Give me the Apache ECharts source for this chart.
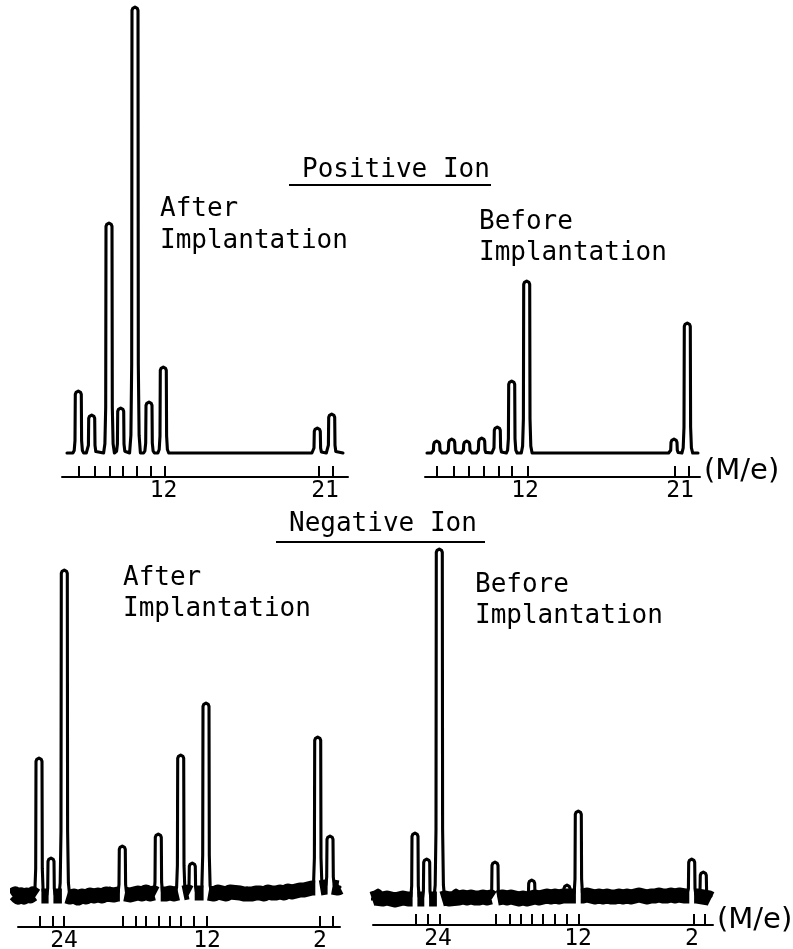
<!DOCTYPE html>
<html><head><meta charset="utf-8">
<script src="https://cdn.jsdelivr.net/npm/echarts@6/dist/echarts.min.js"></script>
<style>html,body{margin:0;padding:0;background:#fff}#c{width:793px;height:949px}</style>
</head><body><div id="c"></div>
<script>
// ---- Positive ion, after implantation (x: scan position, y: intensity, arbitrary units)
const posAfterPeakPos    = [16.3, 29.7, 47, 58.7, 73, 87, 101.3, 255.3, 269.7];
const posAfterPeakHeight = [62, 38, 230, 45, 446, 51, 86, 25, 39];
const posAfterTicks      = [16.3, 32.3, 48, 60.7, 74.7, 88.7, 103, 256.3, 270.7];
const posAfterLabelPos   = [101.5, 263];
const posAfterLabelText  = ['12', '21'];

// ---- Positive ion, before implantation
const posBeforePeakPos    = [11.7, 26.7, 41.7, 56.7, 72.3, 86.7, 101.7, 249, 262.3];
const posBeforePeakHeight = [12, 14, 12, 15, 26, 72, 172, 14, 130];
const posBeforeTicks      = [11.7, 28.3, 43.3, 58.3, 73.3, 86.7, 102.3, 249.3, 263.3];
const posBeforeLabelPos   = [100, 255];
const posBeforeLabelText  = ['12', '21'];

// ---- Negative ion, after implantation
const negAfterPeakPos    = [21, 33, 46.3, 92, 104.3, 140.3, 162.7, 174.3, 188, 217, 229, 299.7, 312];
const negAfterPeakHeight = [138, 38, 326, 7, 48, 60, 138, 30, 190, 6, 6, 151, 51];
const negAfterPeakBase   = [0, 0, 0, 1, 2, 2, 3, 3, 3, 3, 2, 8, 9];
const negAfterNoise = [[-6,0],[-3,2],[0,-1],[3,1],[6,-1],[9,1],[12,0],[15,2],[18,0],[27,0],[39,0],
  [52,-1],[56,0],[60,-2],[64,0],[68,-1],[72,1],[76,0],[80,1],[84,0],[88,2],[96,1],[100,2],
  [108,3],[112,1],[116,2],[120,3],[124,2],[128,4],[132,2],[136,3],[144,1],[148,2],[152,3],[156,2],
  [166,3],[170,4],[178,3],[182,3],[192,3],[196,2],[200,4],[204,3],[208,2],[212,4],[222,3],[226,2],
  [234,2],[238,3],[242,3],[246,2],[250,4],[254,3],[258,3],[262,4],[266,3],[270,5],[274,4],[278,5],
  [282,6],[286,6],[290,7],[294,8],[304,8],[308,9],[316,9],[320,8],[322,9]];
const negAfterTicks      = [22, 34.7, 45.3, 104.7, 117.7, 127.7, 140.3, 152, 162.7, 175.3, 188.7, 302, 314.3];
const negAfterLabelPos   = [46, 189, 302];
const negAfterLabelText  = ['24', '12', '2'];

// ---- Negative ion, before implantation
const negBeforePeakPos    = [5, 42, 53.7, 66.3, 83, 122, 158.7, 194, 205.3, 318.7, 330.3];
const negBeforePeakHeight = [9, 66, 40, 350, 8, 36, 18, 11, 85, 37, 24];
const negBeforePeakBase   = [0, 0, 0, 0, 1, 1, 1, 3, 3, 3, 3];
const negBeforeNoise = [[-1,0],[2,1],[10,0],[14,1],[18,0],[22,-1],[26,0],[30,1],[35,0],[47.5,0],[60,0],
  [72,1],[76,0],[86,1],[90,2],[94,1],[98,2],[102,1],[106,1],[110,2],[114,1],[118,2],[126,1],[130,2],
  [134,1],[138,2],[142,1],[146,0],[150,1],[154,0],[162,2],[166,1],[170,2],[174,3],[178,2],[182,3],
  [186,2],[190,3],[198,3],[201,3],[210,3],[214,4],[218,3],[222,2],[226,3],[230,2],[234,3],[238,2],
  [242,2],[246,3],[250,2],[254,3],[258,2],[262,3],[266,4],[270,3],[274,2],[278,3],[282,3],[286,4],
  [290,3],[294,3],[298,4],[302,3],[306,4],[312,3],[324,3],[336,1],[338,0]];
const negBeforeTicks      = [43, 54.7, 66.3, 123, 136.3, 147.7, 158.7, 169.7, 182, 193.7, 205.3, 320.3, 332];
const negBeforeLabelPos   = [65, 205, 319];
const negBeforeLabelText  = ['24', '12', '2'];

// ---- drawing style: pen-trace peak profile template
const SHAPE_DX   = [-5.4, -4.1, -3.3, -3.0, -2.2, -1.1, 0, 1.1, 2.2, 3.0, 3.3, 4.1, 5.4];
const SHAPE_FRAC = [0, 0.04, 0.2, 1, 1, 1, 1, 1, 1, 1, 0.2, 0.04, 0];
const SHAPE_DROP = [0, 0, 0, 3.4, 1.3, 0.3, 0, 0.3, 1.3, 3.4, 0, 0, 0];
const GAP = 2.4;
const FONT = '"DejaVu Sans Mono", monospace';

function trace(pos, h, base, x0, x1) {
  const pts = [[x0, base[0]]];
  pos.forEach((p, i) => {
    SHAPE_DX.forEach((dx, k) => {
      const y = Math.max(SHAPE_FRAC[k] * h[i] - SHAPE_DROP[k], 0);
      pts.push([p + dx, base[i] + y]);
    });
  });
  pts.push([x1, base[base.length - 1]]);
  return pts;
}
function band(knots, pos, h, base) {
  const items = knots.map(k => [k[0], k[1]]);
  pos.forEach((p, i) => {
    if (h[i] > 25) {
      items.push([p - GAP, base[i]]);
      items.push([p, '-']);
      items.push([p + GAP, base[i]]);
    }
  });
  items.sort((a, b) => a[0] - b[0]);
  return items;
}
function xAxisCfg(idx, w, ticks, lpos, ltext) {
  return {
    gridIndex: idx, type: 'value', min: 0, max: w,
    axisLine: { show: true, onZero: false, lineStyle: { color: '#000', width: 2 } },
    axisTick: { show: true, inside: true, length: 11, customValues: ticks, lineStyle: { color: '#000', width: 2 } },
    axisLabel: {
      show: true, customValues: lpos, margin: 3, color: '#000', fontFamily: FONT, fontSize: 23,
      formatter: function (v) {
        let best = 0, d = Infinity;
        lpos.forEach((p, i) => { if (Math.abs(p - v) < d) { d = Math.abs(p - v); best = i; } });
        return ltext[best];
      }
    },
    splitLine: { show: false }
  };
}
function lineSeries(idx, data, width, cap) {
  return {
    type: 'line', xAxisIndex: idx, yAxisIndex: idx, data: data,
    showSymbol: false, symbol: 'none', clip: false, silent: true, animation: false,
    lineStyle: { color: '#000', width: width, join: 'round', cap: cap || 'round' }
  };
}

const zeros = a => a.map(() => 0);

const grids = [
  { left: 62, top: 0, width: 286, height: 477, outerBoundsMode: 'none' },
  { left: 425, top: 0, width: 275, height: 477, outerBoundsMode: 'none' },
  { left: 18, top: 540, width: 322, height: 387, outerBoundsMode: 'none' },
  { left: 373, top: 540, width: 340, height: 385, outerBoundsMode: 'none' }
];

function txt(x, y, s, size, fam) {
  return { type: 'text', x: x, y: y, silent: true,
    style: { text: s, fill: '#000', font: size + 'px ' + (fam || FONT), verticalAlign: 'middle', align: 'left' } };
}
function hline(x1, x2, y) {
  return { type: 'line', silent: true, shape: { x1: x1, y1: y, x2: x2, y2: y },
    style: { stroke: '#000', lineWidth: 2 } };
}

const option = {
  backgroundColor: '#fff',
  animation: false,
  grid: grids,
  xAxis: [
    xAxisCfg(0, 286, posAfterTicks, posAfterLabelPos, posAfterLabelText),
    xAxisCfg(1, 275, posBeforeTicks, posBeforeLabelPos, posBeforeLabelText),
    xAxisCfg(2, 322, negAfterTicks, negAfterLabelPos, negAfterLabelText),
    xAxisCfg(3, 340, negBeforeTicks, negBeforeLabelPos, negBeforeLabelText)
  ],
  yAxis: [
    { gridIndex: 0, type: 'value', min: -24, max: 453, show: false },
    { gridIndex: 1, type: 'value', min: -24, max: 453, show: false },
    { gridIndex: 2, type: 'value', min: -31, max: 356, show: false },
    { gridIndex: 3, type: 'value', min: -26, max: 359, show: false }
  ],
  series: [
    lineSeries(0, trace(posAfterPeakPos, posAfterPeakHeight, zeros(posAfterPeakPos), 5, 281), 3.1),
    lineSeries(1, trace(posBeforePeakPos, posBeforePeakHeight, zeros(posBeforePeakPos), 2, 273), 3.1),
    lineSeries(2, band(negAfterNoise, negAfterPeakPos, negAfterPeakHeight, negAfterPeakBase), 15, 'butt'),
    lineSeries(2, trace(negAfterPeakPos, negAfterPeakHeight, negAfterPeakBase, -6, 322), 3.1),
    lineSeries(3, band(negBeforeNoise, negBeforePeakPos, negBeforePeakHeight, negBeforePeakBase), 15, 'butt'),
    lineSeries(3, trace(negBeforePeakPos, negBeforePeakHeight, negBeforePeakBase, -1, 338), 3.1)
  ],
  graphic: [
    txt(302, 170, 'Positive Ion', 26), hline(289, 491, 185),
    txt(160, 209, 'After', 26), txt(160, 241, 'Implantation', 26),
    txt(479, 222, 'Before', 26), txt(479, 253, 'Implantation', 26),
    txt(704, 471, '(M/e)', 29, '"DejaVu Sans", sans-serif'),
    txt(289, 524, 'Negative Ion', 26), hline(276, 485, 542),
    txt(123, 578, 'After', 26), txt(123, 609, 'Implantation', 26),
    txt(475, 585, 'Before', 26), txt(475, 616, 'Implantation', 26),
    txt(717, 920, '(M/e)', 29, '"DejaVu Sans", sans-serif')
  ]
};
echarts.init(document.getElementById('c'), null, { renderer: 'canvas' }).setOption(option);
</script></body></html>
